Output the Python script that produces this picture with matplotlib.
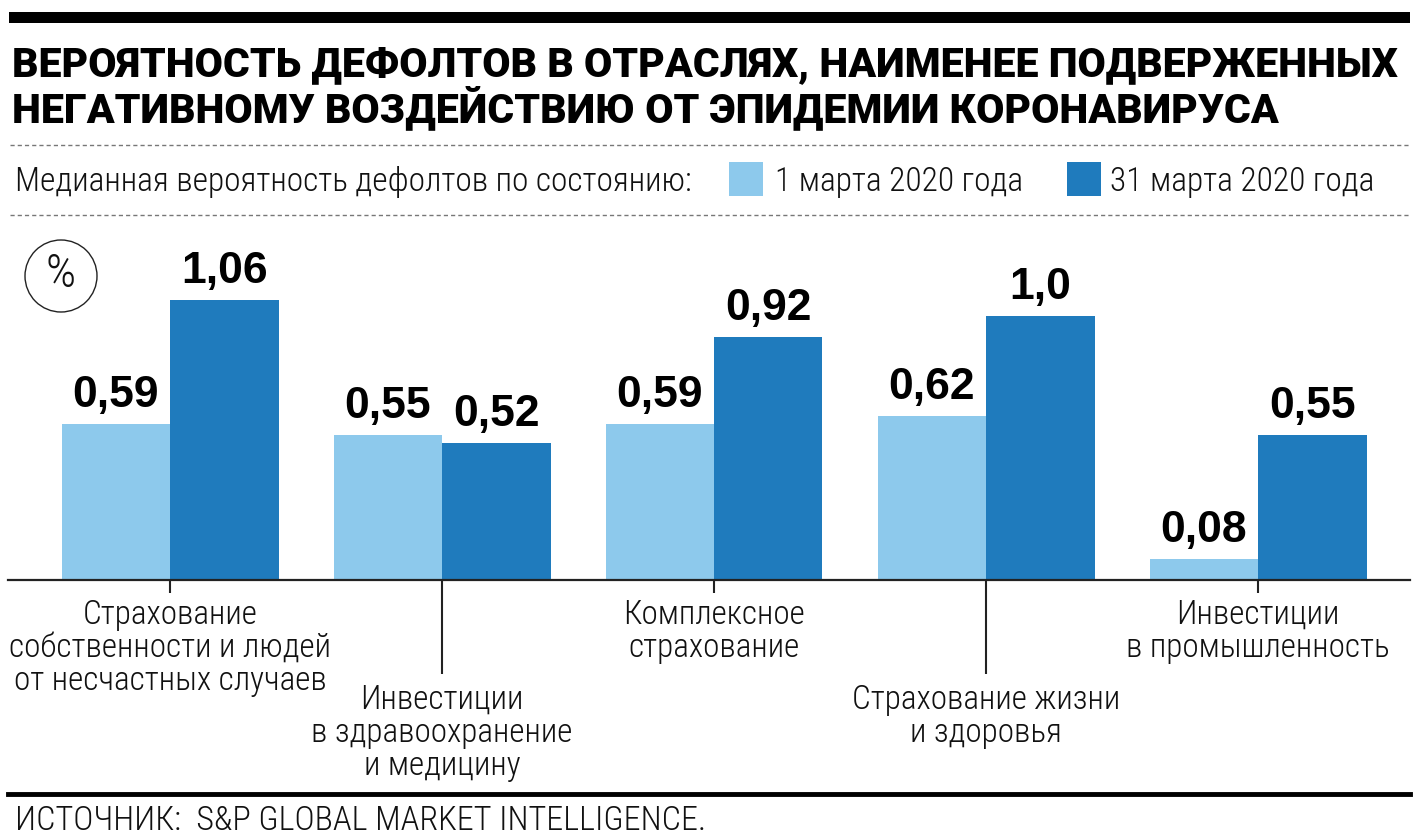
import matplotlib
matplotlib.use('Agg')
import matplotlib.pyplot as plt
from matplotlib import font_manager as fm
from matplotlib.patches import Rectangle, Ellipse
from matplotlib.lines import Line2D
import numpy as np

# ---------------- data ----------------
title_lines = ["ВЕРОЯТНОСТЬ ДЕФОЛТОВ В ОТРАСЛЯХ, НАИМЕНЕЕ ПОДВЕРЖЕННЫХ",
               "НЕГАТИВНОМУ ВОЗДЕЙСТВИЮ ОТ ЭПИДЕМИИ КОРОНАВИРУСА"]
legend_title = "Медианная вероятность дефолтов по состоянию:"
series_names = ["1 марта 2020 года", "31 марта 2020 года"]
categories = ["Страхование\nсобственности и людей\nот несчастных случаев",
              "Инвестиции\nв здравоохранение\nи медицину",
              "Комплексное\nстрахование",
              "Страхование жизни\nи здоровья",
              "Инвестиции\nв промышленность"]
values_mar1 = [0.59, 0.55, 0.59, 0.62, 0.08]
values_mar31 = [1.06, 0.52, 0.92, 1.0, 0.55]
labels_mar1 = ["0,59", "0,55", "0,59", "0,62", "0,08"]
labels_mar31 = ["1,06", "0,52", "0,92", "1,0", "0,55"]
unit_label = "%"
source_text = "ИСТОЧНИК:  S&P GLOBAL MARKET INTELLIGENCE."

# ---------------- style ----------------
colors = ['#8dc9ec', '#1f7bbd']
ink = '#111111'

ttf = fm.fontManager.ttflist
names = {f.name for f in ttf}

def pick(cands, default='DejaVu Sans'):
    for c in cands:
        if c in names:
            return c
    return default

def wnum(w):
    if isinstance(w, (int, float)):
        return w
    table = {'thin': 100, 'extralight': 200, 'light': 300, 'normal': 400, 'regular': 400,
             'book': 400, 'medium': 500, 'semibold': 600, 'demibold': 600, 'bold': 700,
             'extrabold': 800, 'heavy': 900, 'black': 900}
    return table.get(str(w).lower(), 400)

def pick_weight(cands, minw):
    for c in cands:
        ws = [wnum(f.weight) for f in ttf if f.name == c and f.style == 'normal']
        good = [w for w in ws if w >= minw]
        if good:
            return c, max(good)
    return None, None

body_font = pick(['Roboto Condensed', 'Liberation Sans Narrow', 'Arial Narrow', 'Liberation Sans'])
body_ws = [wnum(f.weight) for f in ttf if f.name == body_font and f.style == 'normal']
body_weight = 300 if 300 in body_ws else 'normal'

title_font, title_weight = pick_weight(['Roboto', 'Lato', 'Inter', 'Open Sans', 'Noto Sans'], 850)
if title_font is None:
    title_font, title_weight = pick(['Roboto', 'Liberation Sans']), 'bold'
num_font = pick(['Liberation Sans', 'DejaVu Sans'])

W, H = 1420, 840
fig = plt.figure(figsize=(W / 100, H / 100), dpi=100)
fig.patch.set_facecolor('white')

def fx(x):
    return x / W

def fy(y):
    return 1 - y / H

PT = 72 / 100  # points per pixel

# top black bar
fig.patches.append(Rectangle((fx(9), fy(23)), (1410 - 9) / W, 11 / H,
                             transform=fig.transFigure, color='black', lw=0))

# title
t1 = fig.text(fx(12), fy(76), title_lines[0], family=title_font, weight=title_weight,
              fontsize=28, color='black', ha='left', va='baseline')
t2 = fig.text(fx(12), fy(122), title_lines[1], family=title_font, weight=title_weight,
              fontsize=28, color='black', ha='left', va='baseline')

# dashed separators
for yy in (145, 215):
    fig.lines.append(Line2D([fx(10), fx(1410)], [fy(yy), fy(yy)], transform=fig.transFigure,
                            color='#777777', lw=1.0, dashes=(3, 2.2)))

# legend row
lt = fig.text(fx(15), fy(191), legend_title, family=body_font, weight=body_weight, fontsize=20,
              color=ink, ha='left', va='baseline')
sq_x = [729, 1067]
tx_x = [775, 1110]
leg_texts = []
for i in range(2):
    fig.patches.append(Rectangle((fx(sq_x[i]), fy(196)), 34 / W, 34 / H,
                                 transform=fig.transFigure, color=colors[i], lw=0))
    leg_texts.append(fig.text(fx(tx_x[i]), fy(191), series_names[i], family=body_font,
                              weight=body_weight, fontsize=20, color=ink,
                              ha='left', va='baseline'))

# ---------------- bars ----------------
ax_left, ax_right, ax_top, ax_bot = 8, 1410, 230, 580
ax = fig.add_axes([fx(ax_left), fy(ax_bot), (ax_right - ax_left) / W, (ax_bot - ax_top) / H])
ax.set_facecolor('none')
spacing = 272.0
first_c = 170.0
ax.set_xlim((ax_left - first_c) / spacing, (ax_right - first_c) / spacing)
ppu = 264.0
ax.set_ylim(0, (ax_bot - ax_top) / ppu)
x = np.arange(len(categories))
bw = 108.5 / spacing
ax.bar(x - bw / 2, values_mar1, bw, color=colors[0], lw=0, zorder=2)
ax.bar(x + bw / 2, values_mar31, bw, color=colors[1], lw=0, zorder=2)

for s in ('top', 'right', 'left'):
    ax.spines[s].set_visible(False)
ax.spines['bottom'].set_linewidth(1.6)
ax.spines['bottom'].set_color('#222222')
ax.spines['bottom'].set_zorder(3)
ax.set_yticks([])
ax.set_xticks(x[::2])
ax.set_xticks(x[1::2], minor=True)
ax.tick_params(axis='x', which='major', length=13 * PT, width=1.5, color='#222222',
               labelbottom=False)
ax.tick_params(axis='x', which='minor', length=94 * PT, width=1.5, color='#222222',
               labelbottom=False)

num_texts = []
for i in range(len(categories)):
    for vals, labs, off in ((values_mar1, labels_mar1, -bw / 2), (values_mar31, labels_mar31, bw / 2)):
        num_texts.append(ax.annotate(labs[i], xy=(x[i] + off, vals[i]), xytext=(0, 17 * PT),
                                     textcoords='offset points', ha='center', va='baseline',
                                     family=num_font, weight='bold', fontsize=32, color='black',
                                     annotation_clip=False))

# category labels
cat_texts = []
line_gap = 33
for i, cat in enumerate(categories):
    first_base = 624 if i % 2 == 0 else 709
    for j, line in enumerate(cat.split('\n')):
        b = first_base + j * line_gap
        cat_texts.append(ax.annotate(line, xy=(x[i], 0), xytext=(0, -(b - ax_bot) * PT),
                                     textcoords='offset points', ha='center', va='baseline',
                                     family=body_font, weight=body_weight, fontsize=20,
                                     color=ink, annotation_clip=False))

# percent circle
fig.patches.append(Ellipse((fx(61), fy(276)), 72 / W, 72 / H, transform=fig.transFigure,
                           fill=False, ec='#222222', lw=1.0))
pct = fig.text(fx(61), fy(287), unit_label, family=body_font, weight=body_weight,
               fontsize=22, color=ink, ha='center', va='baseline')

# bottom line and source
fig.lines.append(Line2D([fx(8), fx(1410)], [fy(794), fy(794)], transform=fig.transFigure,
                        color='black', lw=3.5))
st = fig.text(fx(15), fy(830), source_text, family=body_font, weight=body_weight,
              fontsize=20, color=ink, ha='left', va='baseline')

# ---------------- fit text widths to the reference ----------------
fig.canvas.draw()
r = fig.canvas.get_renderer()

def fit(t, target, others=()):
    w = t.get_window_extent(r).width
    s = t.get_fontsize() * target / w
    t.set_fontsize(s)
    for o in others:
        o.set_fontsize(s)

fit(t1, 1388, [t2])
fit(lt, 678, leg_texts)
fit(st, 690)
fit(pct, 30)
wide = [t for t in cat_texts if t.get_text() == "собственности и людей"][0]
fit(wide, 322, [t for t in cat_texts if t is not wide])

fig.savefig('out.png', dpi=100, facecolor='white')
